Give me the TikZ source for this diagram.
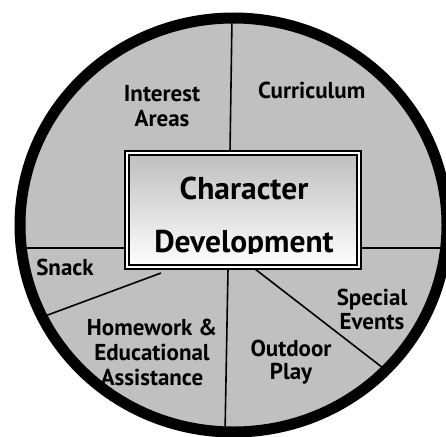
\documentclass[tikz,border=0pt]{standalone}
\usepackage{fontspec}
\setmainfont{PT Sans}
\definecolor{pie}{RGB}{192,192,192}
\definecolor{cdgray}{RGB}{190,190,190}
\tikzset{
  divider/.style={line width=1.6pt, draw=black},
  rim/.style={line width=11pt, draw=black},
  lbl/.style={font=\fontsize{23}{25}\selectfont\bfseries, align=center, anchor=base, inner sep=0pt},
  cdtext/.style={font=\fontsize{31.5}{32}\selectfont\bfseries, anchor=base, inner sep=0pt},
  cdbox/.style={draw=black, line width=2pt, double=white, double distance=2.6pt,
    minimum width=232pt, minimum height=114pt, inner sep=0pt,
    top color=cdgray, bottom color=white}
}
\begin{document}
\begin{tikzpicture}[x=1pt,y=-1pt]
\useasboundingbox (0,0) rectangle (446,436);
\clip (0,0) rectangle (446,436);
\fill[white] (0,0) rectangle (446,436);
% pie disc
\coordinate (ctr) at (233.5,225);
\fill[pie] (ctr) ellipse [x radius=213.5pt, y radius=207pt];
% outer-end coordinates
\coordinate (topO) at (232,18);
\coordinate (leftO) at (20,248);
\coordinate (rightO) at (446,248);
\coordinate (snackO) at (41,317.5);
\coordinate (botO) at (225,434);
\coordinate (speO) at (386.5,370.7);
% inner-end coordinates (at the box)
\coordinate (topI) at (230,152);
\coordinate (leftI) at (125,248);
\coordinate (rightI) at (361,248);
\coordinate (snackI) at (161,273);
\coordinate (botI) at (228,269);
\coordinate (speI) at (255,269);
\draw[divider] (topO) -- (topI);
\draw[divider] (leftO) -- (leftI);
\draw[divider] (rightI) -- (rightO);
\draw[divider] (snackI) -- (snackO);
\draw[divider] (botI) -- (botO);
\draw[divider] (speI) -- (speO);
% rim
\draw[rim] (ctr) ellipse [x radius=213.5pt, y radius=207pt];
% centre box
\node[cdbox] (cd) at (243,209.9) {};
\node[cdtext] (c1) at (244,199) {Character};
\begin{scope}
  \clip (125,150) rectangle (361,253);
  \node[cdtext] (c2) at (244,252.5) {Development};
\end{scope}
% labels (base anchor = baseline of last line)
\node[lbl] (interest) at (162,126.7) {Interest\\Areas};
\node[lbl] (curr) at (311.7,98.3) {Curriculum};
\node[lbl] (snack) at (65,275.7) {Snack};
\node[lbl, font=\fontsize{23}{24}\selectfont\bfseries] (special) at (372,329) {Special\\Events};
\node[lbl] (home) at (152,385) {Homework \&\\Educational\\Assistance};
\node[lbl, font=\fontsize{23}{23}\selectfont\bfseries] (outdoor) at (291,379.5) {Outdoor\\Play};
\end{tikzpicture}
\end{document}
